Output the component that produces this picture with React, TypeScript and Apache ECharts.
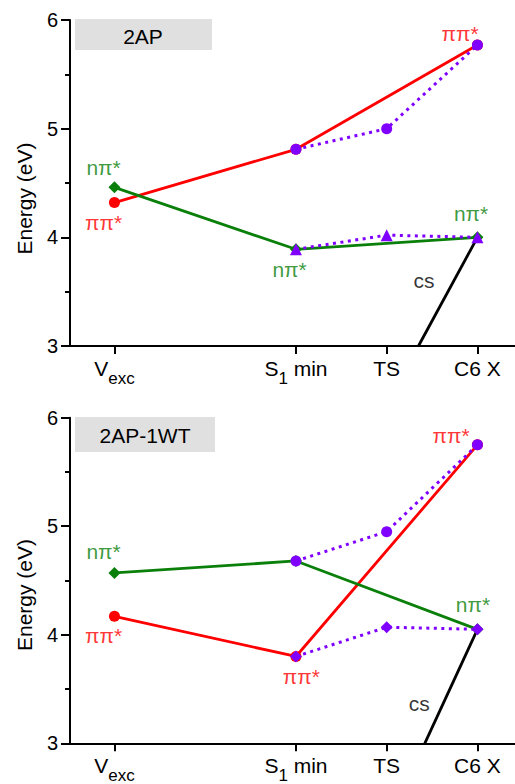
import React, { useEffect, useRef } from 'react';
import * as echarts from 'echarts';

// ---------- data ----------
const stateX = [0, 2, 3, 4]; // Vexc, S1 min, TS, C6 X
const stateLabels = ['{a|V}{b|exc}', '{a|S}{b|1}{a| min}', '{a|TS}', '{a|C6 X}'];
const mainX = [0, 2, 4]; // Vexc, S1 min, C6 X
const pathX = [2, 3, 4]; // S1 min, TS, C6 X
const yTicks = [3, 6];
const panelTitles = ['2AP', '2AP-1WT'];

// 2AP
const apPiPi = [4.32, 4.81, 5.77];
const apNPi = [4.46, 3.89, 4.0];
const apPathUpper = [4.81, 5.0, 5.77];
const apPathLower = [3.89, 4.02, 4.0];
const apCs = [[3.35, 3.0], [4, 4.0]];
const apNotes: [number, number, string, string][] = [
  [-0.12, 4.64, 'nπ*', 'g'],
  [-0.12, 4.14, 'ππ*', 'r'],
  [3.81, 5.88, 'ππ*', 'r'],
  [1.93, 3.7, 'nπ*', 'g'],
  [3.93, 4.22, 'nπ*', 'g'],
  [3.41, 3.6, 'cs', 'k'],
];

// 2AP-1WT
const wtPiPi = [4.17, 3.8, 5.75];
const wtNPi = [4.57, 4.68, 4.05];
const wtPathUpper = [4.68, 4.95, 5.75];
const wtPathLower = [3.8, 4.07, 4.05];
const wtCs = [[3.42, 3.0], [4, 4.05]];
const wtNotes: [number, number, string, string][] = [
  [-0.12, 4.77, 'nπ*', 'g'],
  [-0.12, 3.99, 'ππ*', 'r'],
  [3.71, 5.84, 'ππ*', 'r'],
  [2.06, 3.62, 'ππ*', 'r'],
  [3.95, 4.28, 'nπ*', 'g'],
  [3.36, 3.37, 'cs', 'k'],
];

// ---------- styles ----------
const RED = '#ff0000';
const GREEN = '#0a800a';
const PURPLE = '#8000ff';
const FONT = '"Liberation Sans", Arial, Helvetica, sans-serif';
const noteColor: Record<string, string> = { r: RED, g: GREEN, k: '#000' };

const W = 515;
const H = 784;
const grids = [
  { left: 70, top: 20, width: 445, height: 326 },
  { left: 70, top: 417.7, width: 445, height: 325.6 },
];

function panelSeries(idx: number, d: any) {
  const base = { xAxisIndex: idx, yAxisIndex: idx, animation: false };
  return [
    {
      ...base, type: 'line', data: d.cs, symbol: 'none',
      lineStyle: { color: '#000', width: 2.8 }, z: 2,
    },
    {
      ...base, type: 'line', data: mainX.map((x, i) => [x, d.pipi[i]]),
      symbol: 'circle', symbolSize: 11, itemStyle: { color: RED },
      lineStyle: { color: RED, width: 2.8 }, z: 3,
    },
    {
      ...base, type: 'line', data: mainX.map((x, i) => [x, d.npi[i]]),
      symbol: 'diamond', symbolSize: 12, itemStyle: { color: GREEN },
      lineStyle: { color: GREEN, width: 2.8 }, z: 3,
    },
    {
      ...base, type: 'line', data: pathX.map((x, i) => [x, d.upper[i]]),
      symbol: 'circle', symbolSize: 11, itemStyle: { color: PURPLE },
      lineStyle: { color: PURPLE, width: 3, type: [3, 4.5] }, z: 4,
    },
    {
      ...base, type: 'line', data: pathX.map((x, i) => [x, d.lower[i]]),
      symbol: d.lowerSymbol, symbolSize: 12,
      itemStyle: { color: PURPLE },
      lineStyle: { color: PURPLE, width: 3, type: [3, 4.5] }, z: 4,
    },
    {
      ...base, type: 'scatter', symbolSize: 1, z: 6,
      itemStyle: { color: 'rgba(0,0,0,0)' },
      data: d.notes.map((n: any) => ({
        value: [n[0], n[1]],
        label: {
          show: true, position: 'inside', formatter: n[2],
          color: noteColor[n[3]], fontSize: 21, fontFamily: FONT,
        },
      })),
    },
  ];
}

export default function App() {
  const ref = useRef<HTMLDivElement>(null);
  useEffect(() => {
    if (!ref.current) return;
    const chart = echarts.init(ref.current, null, { renderer: 'svg', width: W, height: H });
    const xAxes = grids.map((_, i) => ({
      type: 'value', gridIndex: i, min: -0.49, max: 4.414,
      splitLine: { show: false },
      axisLine: { show: true, onZero: false, lineStyle: { color: '#000', width: 2 } },
      axisTick: { show: true, customValues: stateX, length: 8, lineStyle: { color: '#000', width: 2 } },
      axisLabel: {
        customValues: stateX, margin: 12, color: '#000',
        formatter: (v: number) => stateLabels[stateX.indexOf(v)] ?? '',
        rich: {
          a: { fontSize: 21, fontFamily: FONT, color: '#000', lineHeight: 24, verticalAlign: 'top' },
          b: { fontSize: 17, fontFamily: FONT, color: '#000', lineHeight: 18, padding: [12, 0, 0, 0], verticalAlign: 'top' },
        },
      },
    }));
    const yAxes = grids.map((_, i) => ({
      type: 'value', gridIndex: i, min: yTicks[0], max: yTicks[1], interval: 1,
      splitLine: { show: false },
      axisLine: { show: true, onZero: false, lineStyle: { color: '#000', width: 2 } },
      axisTick: { show: true, length: 9, lineStyle: { color: '#000', width: 2 } },
      minorTick: { show: true, splitNumber: 2, length: 5, lineStyle: { color: '#000', width: 2 } },
      axisLabel: { color: '#000', fontSize: 20, fontFamily: FONT, margin: 12 },
    }));
    const series = [
      ...panelSeries(0, { cs: apCs, pipi: apPiPi, npi: apNPi, upper: apPathUpper, lower: apPathLower, lowerSymbol: 'triangle', notes: apNotes }),
      ...panelSeries(1, { cs: wtCs, pipi: wtPiPi, npi: wtNPi, upper: wtPathUpper, lower: wtPathLower, lowerSymbol: 'diamond', notes: wtNotes }),
    ];
    const graphic: any[] = [
      { type: 'rect', shape: { x: 75, y: 19, width: 137, height: 31 }, style: { fill: '#e0e0e0' }, z: 0 },
      { type: 'text', x: 143, y: 36, style: { text: panelTitles[0], fontSize: 21, fontFamily: FONT, fill: '#000', align: 'center', verticalAlign: 'middle' } },
      { type: 'rect', shape: { x: 75, y: 417, width: 140, height: 35 }, style: { fill: '#e0e0e0' }, z: 0 },
      { type: 'text', x: 145, y: 435.5, style: { text: panelTitles[1], fontSize: 21, fontFamily: FONT, fill: '#000', align: 'center', verticalAlign: 'middle' } },
      { type: 'text', x: 24, y: 198.5, rotation: Math.PI / 2, style: { text: 'Energy (eV)', fontSize: 21, fontFamily: FONT, fill: '#000', align: 'center', verticalAlign: 'middle' } },
      { type: 'text', x: 24, y: 595, rotation: Math.PI / 2, style: { text: 'Energy (eV)', fontSize: 21, fontFamily: FONT, fill: '#000', align: 'center', verticalAlign: 'middle' } },
    ];
    chart.setOption({
      animation: false,
      backgroundColor: '#fff',
      grid: grids.map((g) => ({ ...g, containLabel: false, outerBoundsMode: 'none' })),
      xAxis: xAxes,
      yAxis: yAxes,
      series,
      graphic,
    } as any);
    return () => chart.dispose();
  }, []);
  return <div ref={ref} style={{ position: 'fixed', left: 0, top: 0, width: W, height: H }} />;
}
